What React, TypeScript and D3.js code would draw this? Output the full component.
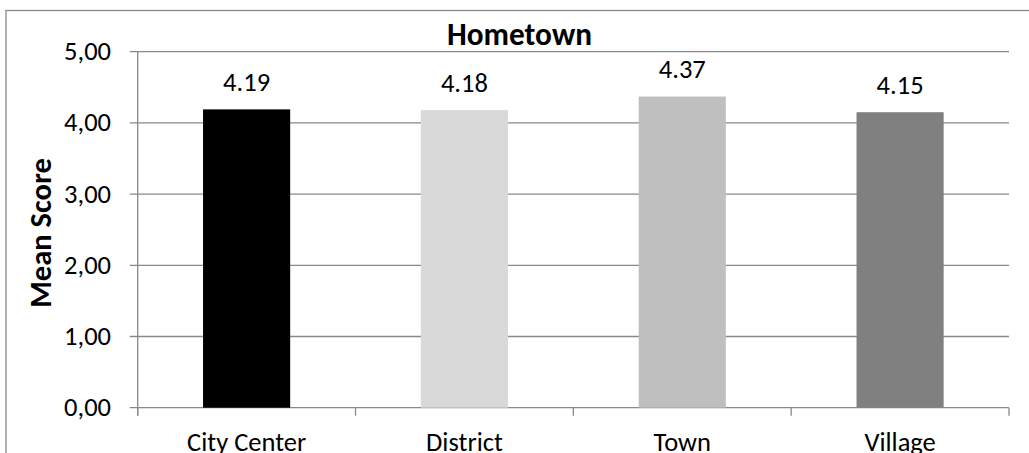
import React from 'react';
import * as d3 from 'd3';

// chart values
const categories = ['City Center', 'District', 'Town', 'Village'];
const meanScores = [4.19, 4.18, 4.37, 4.15];
const yTicks = [0, 1, 2, 3, 4, 5];

const barColors = ['#000000', '#D9D9D9', '#BFBFBF', '#808080'];
const gridColor = '#898989';
const font = "Carlito, Calibri, 'Liberation Sans', sans-serif";

const W = 1029;
const H = 453;
const plot = { left: 137.7, right: 1009, top: 51.7, bottom: 407.7 };

const App: React.FC = () => {
  const x = d3
    .scaleBand()
    .domain(categories)
    .range([plot.left, plot.right])
    .paddingInner(0.6)
    .paddingOuter(0.3);

  const y = d3.scaleLinear().domain([0, 5]).range([plot.bottom, plot.top]);

  const tickFmt = (v: number) => d3.format('.2f')(v).replace('.', ',');
  const step = x.step();
  // boundaries between categories for the x tick marks
  const bounds = d3.range(categories.length + 1).map((i) => plot.left + i * step);

  return (
    <svg
      width={W}
      height={H}
      style={{ position: 'absolute', left: 0, top: 0, background: '#fff' }}
      fontFamily={font}
    >
      {/* chart area border */}
      <rect x={6} y={10.5} width={1030} height={460} fill="#fff" stroke={gridColor} strokeWidth={1.3} />

      {/* grid lines + y ticks */}
      {yTicks.map((t) => (
        <g key={t}>
          <line x1={plot.left - 8} x2={plot.right} y1={y(t)} y2={y(t)} stroke={gridColor} strokeWidth={1.3} />
          <text x={111} y={y(t) + 8.4} textAnchor="end" fontSize={26.5} fill="#000">
            {tickFmt(t)}
          </text>
        </g>
      ))}

      {/* y axis line */}
      <line x1={plot.left} x2={plot.left} y1={plot.top} y2={plot.bottom + 8} stroke={gridColor} strokeWidth={1.3} />

      {/* x tick marks */}
      {bounds.map((b, i) => (
        <line key={i} x1={b} x2={b} y1={plot.bottom} y2={plot.bottom + 8} stroke={gridColor} strokeWidth={1.3} />
      ))}

      {/* bars */}
      {categories.map((c, i) => (
        <rect
          key={c}
          x={x(c)!}
          y={y(meanScores[i])}
          width={x.bandwidth()}
          height={plot.bottom - y(meanScores[i])}
          fill={barColors[i]}
        />
      ))}

      {/* value labels */}
      {categories.map((c, i) => (
        <text
          key={c}
          x={x(c)! + x.bandwidth() / 2}
          y={y(meanScores[i]) - 18.5}
          textAnchor="middle"
          fontSize={26.5}
          fill="#000"
        >
          {meanScores[i].toFixed(2)}
        </text>
      ))}

      {/* x labels */}
      {categories.map((c) => (
        <text key={c} x={x(c)! + x.bandwidth() / 2} y={451} textAnchor="middle" fontSize={26.5} fill="#000">
          {c}
        </text>
      ))}

      {/* title */}
      <text x={519.5} y={45} textAnchor="middle" fontSize={31.3} fontWeight="bold" fill="#000">
        Hometown
      </text>

      {/* y axis title */}
      <text
        transform={`translate(51, 233) rotate(-90)`}
        textAnchor="middle"
        fontSize={30.5}
        fontWeight="bold"
        fill="#000"
      >
        Mean Score
      </text>
    </svg>
  );
};

export default App;
